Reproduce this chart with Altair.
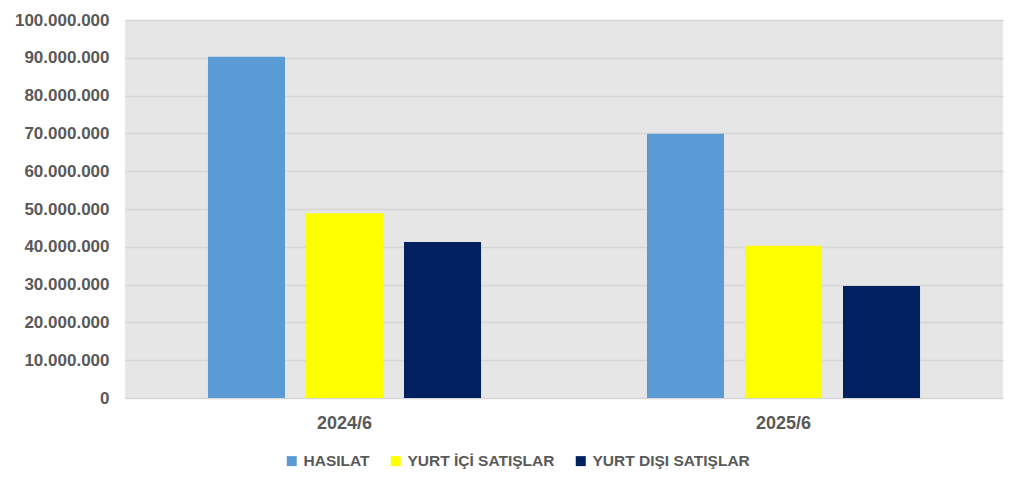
import altair as alt
import pandas as pd

periods = ["2024/6", "2025/6"]
series = ["HASILAT", "YURT İÇİ SATIŞLAR", "YURT DIŞI SATIŞLAR"]
hasilat = [90300000, 69900000]
yurt_ici = [48900000, 40300000]
yurt_disi = [41300000, 29600000]
colors = ["#5b9bd5", "#ffff00", "#002060"]

rows = []
for i, p in enumerate(periods):
    for s, vals in zip(series, [hasilat, yurt_ici, yurt_disi]):
        rows.append({"period": p, "series": s, "value": vals[i]})
df = pd.DataFrame(rows)

FONT = "Liberation Sans"
GREY = "#595959"

chart = alt.Chart(df).mark_bar().encode(
    x=alt.X("period:N", sort=periods, title=None,
            scale=alt.Scale(paddingInner=0.378, paddingOuter=0.189),
            axis=alt.Axis(labelAngle=0, labelFont=FONT, labelFontSize=18, labelFontWeight="bold",
                          labelColor=GREY, ticks=False, domain=False, labelPadding=16)),
    xOffset=alt.XOffset("series:N", sort=series,
                        scale=alt.Scale(paddingInner=0.214, paddingOuter=0)),
    y=alt.Y("value:Q", title=None,
            scale=alt.Scale(domain=[0, 100000000]),
            axis=alt.Axis(values=list(range(0, 100000001, 10000000)),
                          labelExpr="replace(format(datum.value, ',d'), /,/g, '.')",
                          labelFont=FONT, labelFontSize=17, labelFontWeight="bold",
                          labelColor=GREY, ticks=False, domain=False, labelPadding=16,
                          gridColor="#d6d6d6", gridWidth=1.5)),
    color=alt.Color("series:N", sort=series, title=None,
                    scale=alt.Scale(domain=series, range=colors),
                    legend=alt.Legend(orient="none", legendX=159, legendY=433,
                                      direction="horizontal", symbolType="square",
                                      symbolSize=100, symbolStrokeWidth=0,
                                      labelFont=FONT, labelFontSize=15.5, labelFontWeight="bold",
                                      labelColor=GREY, labelOffset=4, columnPadding=18,
                                      labelLimit=400)),
).properties(
    width=878, height=378,
    background="white",
    autosize=alt.AutoSizeParams(type="none"),
    padding={"left": 117, "top": 12, "right": 13, "bottom": 83},
).configure_view(
    fill="#e6e6e6", stroke=None
)

chart.save("out.html", embed_options={"renderer": "svg", "actions": False})
